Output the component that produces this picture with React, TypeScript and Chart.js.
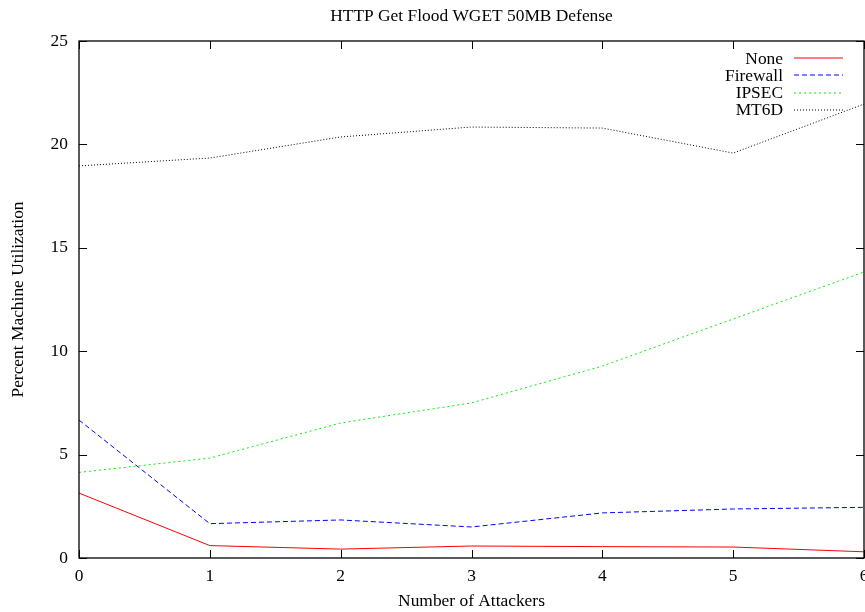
import React, { useEffect, useRef } from "react";
import { Chart, registerables } from "chart.js";

Chart.register(...registerables);

const chartTitle = "HTTP Get Flood WGET 50MB Defense";
const xAxisTitle = "Number of Attackers";
const yAxisTitle = "Percent Machine Utilization";

const attackers = [0, 1, 2, 3, 4, 5, 6];
const noneValues = [3.14, 0.6, 0.43, 0.58, 0.55, 0.53, 0.3];
const firewallValues = [6.67, 1.66, 1.84, 1.5, 2.18, 2.37, 2.45];
const ipsecValues = [4.14, 4.83, 6.53, 7.5, 9.28, 11.56, 13.83];
const mt6dValues = [18.96, 19.34, 20.36, 20.84, 20.79, 19.58, 21.95];

const seriesNames = ["None", "Firewall", "IPSEC", "MT6D"];
const seriesColors = ["#ff0000", "#0000ff", "#00ee00", "#000000"];
const seriesDashes: number[][] = [[], [5, 3], [2, 3], [1, 2]];

const FONT = "'Liberation Serif', 'Times New Roman', serif";
const FS = 17.4;

export default function App() {
  const canvasRef = useRef<HTMLCanvasElement | null>(null);

  useEffect(() => {
    const canvas = canvasRef.current;
    if (!canvas) return;
    const allValues = [noneValues, firewallValues, ipsecValues, mt6dValues];

    const framePlugin = {
      id: "gnuFrame",
      afterDatasetsDraw(chart: any) {
        const ctx = chart.ctx as CanvasRenderingContext2D;
        const { left, right, top, bottom } = chart.chartArea;
        const xs = chart.scales.x;
        const ys = chart.scales.y;
        ctx.save();
        ctx.strokeStyle = "#000";
        ctx.lineWidth = 1.3;
        ctx.setLineDash([]);
        ctx.strokeRect(left, top, right - left, bottom - top);
        const tl = 8;
        ctx.lineWidth = 1;
        ctx.beginPath();
        xs.ticks.forEach((t: any) => {
          const px = Math.round(xs.getPixelForValue(t.value)) + 0.5;
          ctx.moveTo(px, bottom);
          ctx.lineTo(px, bottom - tl);
          ctx.moveTo(px, top);
          ctx.lineTo(px, top + tl);
        });
        ys.ticks.forEach((t: any) => {
          const py = Math.round(ys.getPixelForValue(t.value)) + 0.5;
          ctx.moveTo(left, py);
          ctx.lineTo(left + tl, py);
          ctx.moveTo(right, py);
          ctx.lineTo(right - tl, py);
        });
        ctx.stroke();

        // legend
        seriesNames.forEach((name, i) => {
          const y = 58 + i * 17.3;
          ctx.font = `${FS}px ${FONT}`;
          ctx.fillStyle = "#000";
          ctx.textAlign = "right";
          ctx.textBaseline = "middle";
          ctx.fillText(name, 783, y + 1);
          ctx.beginPath();
          ctx.lineWidth = 1.2;
          ctx.strokeStyle = seriesColors[i];
          ctx.setLineDash(seriesDashes[i]);
          ctx.moveTo(794, Math.round(y));
          ctx.lineTo(843, Math.round(y));
          ctx.stroke();
        });
        ctx.setLineDash([]);

        // titles
        ctx.fillStyle = "#000";
        ctx.textAlign = "center";
        ctx.textBaseline = "middle";
        ctx.font = `${FS}px ${FONT}`;
        ctx.fillText(chartTitle, (left + right) / 2, 16);
        ctx.fillText(xAxisTitle, (left + right) / 2, 601);
        ctx.save();
        ctx.translate(18, (top + bottom) / 2);
        ctx.rotate(-Math.PI / 2);
        ctx.fillText(yAxisTitle, 0, 0);
        ctx.restore();
        ctx.restore();
      },
    };

    const chart = new Chart(canvas, {
      type: "line",
      data: {
        datasets: seriesNames.map((name, i) => ({
          label: name,
          data: attackers.map((x, j) => ({ x, y: allValues[i][j] })),
          borderColor: seriesColors[i],
          borderDash: seriesDashes[i],
          borderWidth: 1,
          pointRadius: 0,
          fill: false,
          tension: 0,
        })),
      },
      options: {
        animation: false,
        responsive: false,
        devicePixelRatio: 1,
        layout: { padding: { top: 41, right: 1, left: 0, bottom: 0 } },
        plugins: {
          legend: { display: false },
          title: { display: false },
          tooltip: { enabled: false },
        },
        scales: {
          x: {
            type: "linear",
            min: 0,
            max: 6,
            grid: { display: false, drawTicks: false },
            border: { display: false },
            ticks: {
              stepSize: 1,
              padding: 8,
              color: "#000",
              font: { family: FONT, size: FS },
              maxRotation: 0,
            },
            afterFit(scale: any) {
              scale.height = 54;
              scale.paddingRight = 0;
              scale.paddingLeft = 0;
            },
          },
          y: {
            min: 0,
            max: 25,
            grid: { display: false, drawTicks: false },
            border: { display: false },
            ticks: {
              stepSize: 5,
              padding: 11,
              color: "#000",
              font: { family: FONT, size: FS },
            },
            afterFit(scale: any) {
              scale.width = 79;
              scale.paddingTop = 0;
              scale.paddingBottom = 0;
            },
          },
        },
      },
      plugins: [framePlugin],
    } as any);

    return () => chart.destroy();
  }, []);

  return (
    <div style={{ position: "absolute", left: 0, top: 0, width: 865, height: 612, background: "#fff" }}>
      <canvas ref={canvasRef} width={865} height={612} style={{ display: "block", width: 865, height: 612 }} />
    </div>
  );
}
